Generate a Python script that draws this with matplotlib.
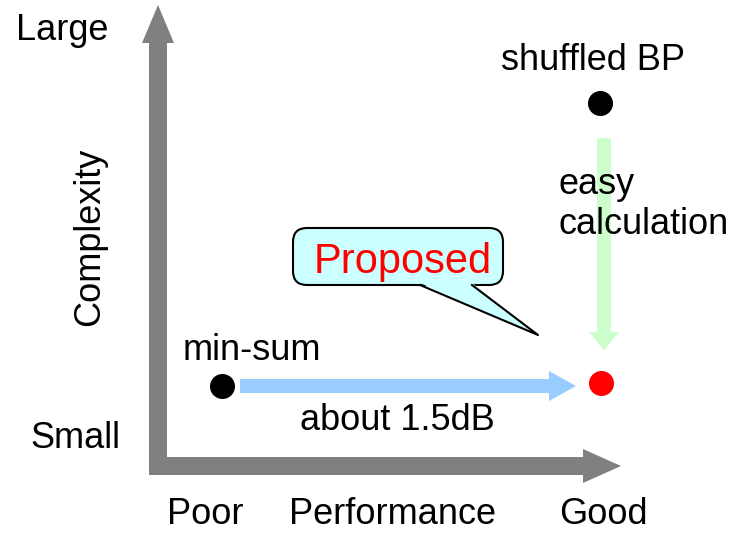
import matplotlib.pyplot as plt
from matplotlib.patches import FancyBboxPatch, Polygon, FancyArrow

plt.rcParams['font.family'] = ['Liberation Sans', 'DejaVu Sans']

# diagram nodes (canvas pixel coords, y down)
node_names = ['min-sum', 'shuffled BP', 'Proposed']
node_x = [222, 600, 601]
node_y = [386, 103, 383]
node_colors = ['black', 'black', 'red']

axis_labels_y = ['Large', 'Small']
axis_labels_x = ['Poor', 'Performance', 'Good']

fig = plt.figure(figsize=(7.41, 5.33), dpi=100)
ax = fig.add_axes([0, 0, 1, 1])
ax.set_xlim(0, 741)
ax.set_ylim(533, 0)
ax.axis('off')

gray = '#808080'
# vertical axis arrow
ax.add_patch(FancyArrow(158, 475, 0, -470, width=18, head_width=32, head_length=38,
                        length_includes_head=True, color=gray, lw=0))
# horizontal axis arrow
ax.add_patch(FancyArrow(149, 466, 472, 0, width=18, head_width=34, head_length=38,
                        length_includes_head=True, color=gray, lw=0))

# blue arrow min-sum -> proposed
ax.add_patch(FancyArrow(240, 386, 336, 0, width=14, head_width=30, head_length=27,
                        length_includes_head=True, color='#99ccff', lw=0))
# green arrow shuffled BP -> proposed
ax.add_patch(FancyArrow(604, 138, 0, 212, width=14, head_width=30, head_length=18,
                        length_includes_head=True, color='#ccffcc', lw=0))

for x, y, c in zip(node_x, node_y, node_colors):
    ax.plot(x, y, 'o', color=c, markersize=17)

fs = 26
dy = 3
ax.text(62, 27 + dy, axis_labels_y[0], fontsize=fs, ha='center', va='center')
ax.text(75, 436 + dy, axis_labels_y[1], fontsize=fs, ha='center', va='center')
ax.text(90, 237, 'Complexity', fontsize=fs, ha='center', va='center', rotation=90)
ax.text(205, 511 + dy, axis_labels_x[0], fontsize=fs, ha='center', va='center')
ax.text(393, 511 + dy, axis_labels_x[1], fontsize=fs, ha='center', va='center')
ax.text(603, 511 + dy, axis_labels_x[2], fontsize=fs, ha='center', va='center')

ax.text(593, 57 + dy, node_names[1], fontsize=fs, ha='center', va='center')
ax.text(252, 347 + dy, node_names[0], fontsize=fs, ha='center', va='center')
ax.text(558, 182 + dy, 'easy', fontsize=fs, ha='left', va='center')
ax.text(558, 222 + dy, 'calculation', fontsize=fs, ha='left', va='center')
ax.text(397, 418 + dy, 'about 1.5dB', fontsize=fs, ha='center', va='center')

# callout
ax.add_patch(FancyBboxPatch((293, 228), 210, 57, boxstyle='round,pad=0,rounding_size=14',
                            fc='#ccffff', ec='black', lw=1.5, zorder=3))
ax.add_patch(Polygon([(420, 283), (538, 335), (472, 283)], closed=True,
                     fc='#ccffff', ec='none', zorder=4))
ax.plot([420, 538, 472], [285, 335, 285], color='black', lw=1.5, zorder=5)
ax.text(403, 259 + dy, node_names[2], fontsize=30, color='red', ha='center', va='center', zorder=6)

fig.savefig('out.png', dpi=100)
